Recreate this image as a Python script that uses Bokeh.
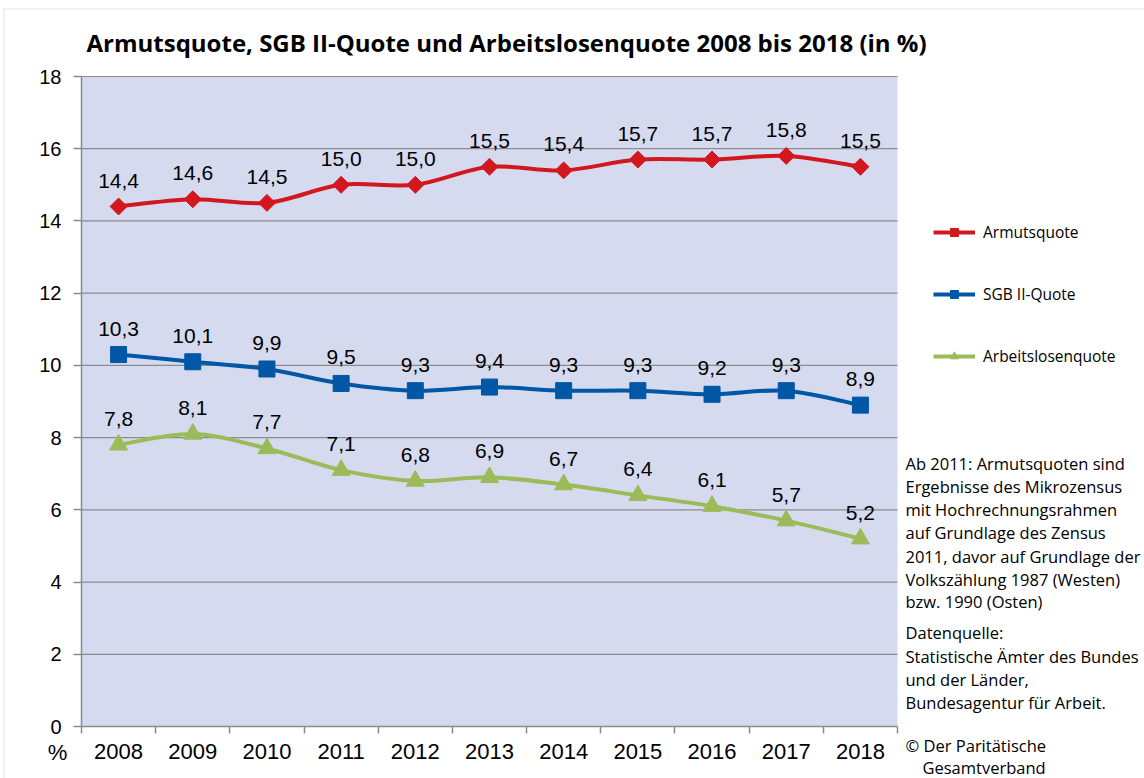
from bokeh.plotting import figure
from bokeh.models import (ColumnDataSource, FixedTicker, Range1d, Label, Legend, LegendItem,
                          BoxAnnotation)
from bokeh.core.properties import value
from bokeh.embed import file_html
from bokeh.resources import INLINE
import math

years = ["2008", "2009", "2010", "2011", "2012", "2013", "2014", "2015", "2016", "2017", "2018"]
armut = [14.4, 14.6, 14.5, 15.0, 15.0, 15.5, 15.4, 15.7, 15.7, 15.8, 15.5]
sgb2 = [10.3, 10.1, 9.9, 9.5, 9.3, 9.4, 9.3, 9.3, 9.2, 9.3, 8.9]
alq = [7.8, 8.1, 7.7, 7.1, 6.8, 6.9, 6.7, 6.4, 6.1, 5.7, 5.2]
y_ticks = [0, 2, 4, 6, 8, 10, 12, 14, 16, 18]
Y_MAX = 18

title_text = "Armutsquote, SGB II-Quote und Arbeitslosenquote 2008 bis 2018 (in %)"
note_lines = ["Ab 2011: Armutsquoten sind", "Ergebnisse des  Mikrozensus",
              "mit Hochrechnungsrahmen", "auf Grundlage des  Zensus",
              "2011, davor auf Grundlage der", "Volkszählung 1987 (Westen)",
              "bzw. 1990 (Osten)"]
source_lines = ["Datenquelle:", "Statistische Ämter des Bundes", "und der Länder,",
                "Bundesagentur für Arbeit."]
copy_lines = ["© Der Paritätische", "Gesamtverband"]

RED = "#D2171E"
BLUE = "#0057A6"
GREEN = "#9BBB59"
GRID = "#8C8C8C"
BG = "#D5DAEF"
FONT = "Liberation Sans"
TFONT = "Open Sans"

# page geometry (pixels): plot area 81..897 x 76..726
W, H = 1144, 778
PL, PR, PT, PB = 81, 897, 76, 726
n = len(years)
ux = (PR - PL) / n
uy = (PB - PT) / Y_MAX


def dx(px):
    return (px - PL) / ux


def dy(py):
    return (PB - py) / uy


xs = [i + 0.5 for i in range(n)]

p = figure(width=W, height=H, output_backend="svg", toolbar_location=None,
           x_range=Range1d(dx(0), dx(W)), y_range=Range1d(dy(H), dy(0)),
           min_border=0, background_fill_color="white", border_fill_color="white")
p.outline_line_color = None

# outer frame line (left and top edges visible)
p.add_layout(BoxAnnotation(left=dx(3.5), right=dx(W + 20), top=dy(8.5), bottom=dy(H + 20),
                           fill_alpha=0, line_color="#A0A0A0", line_width=1, level="underlay"))
# plot area background
p.add_layout(BoxAnnotation(left=0, right=n, bottom=0, top=Y_MAX, fill_color=BG, fill_alpha=1,
                           line_alpha=0, level="underlay"))

# gridlines
p.xgrid.grid_line_color = None
p.ygrid.grid_line_color = None
gl = [t for t in y_ticks if t > 0]
p.segment(x0=[0] * len(gl), x1=[n] * len(gl), y0=gl, y1=gl, line_color=GRID, line_width=1.2)

# axes
xa = p.xaxis[0]
xa.fixed_location = 0
xa.bounds = (0, n)
xa.ticker = FixedTicker(ticks=xs, minor_ticks=list(range(n + 1)))
xa.major_label_overrides = {x: y for x, y in zip(xs, years)}
xa.major_tick_line_color = None
xa.major_tick_out = 7
xa.minor_tick_out = 7
xa.minor_tick_in = 0
xa.minor_tick_line_color = GRID
xa.minor_tick_line_width = 1.5
xa.major_label_standoff = 10
xa.major_label_text_font = FONT
xa.major_label_text_font_size = "22px"
xa.major_label_text_color = "black"
xa.axis_line_color = GRID
xa.axis_line_width = 1.5

ya = p.yaxis[0]
ya.fixed_location = 0
ya.bounds = (0, Y_MAX)
ya.ticker = FixedTicker(ticks=y_ticks)
ya.minor_tick_line_color = None
ya.major_tick_out = 8
ya.major_tick_in = 0
ya.major_tick_line_color = GRID
ya.major_tick_line_width = 1.5
ya.major_label_standoff = 12
ya.major_label_text_font = FONT
ya.major_label_text_font_size = "20px"
ya.major_label_text_color = "black"
ya.axis_line_color = GRID
ya.axis_line_width = 1.5


def smooth(ys):
    m = len(ys)
    pts = list(zip(xs, ys))
    d = dict(x0=[], y0=[], x1=[], y1=[], cx0=[], cy0=[], cx1=[], cy1=[])
    for i in range(m - 1):
        p0 = pts[max(i - 1, 0)]
        p1 = pts[i]
        p2 = pts[i + 1]
        p3 = pts[min(i + 2, m - 1)]
        d["x0"].append(p1[0]); d["y0"].append(p1[1])
        d["x1"].append(p2[0]); d["y1"].append(p2[1])
        d["cx0"].append(p1[0] + (p2[0] - p0[0]) / 6); d["cy0"].append(p1[1] + (p2[1] - p0[1]) / 6)
        d["cx1"].append(p2[0] - (p3[0] - p1[0]) / 6); d["cy1"].append(p2[1] - (p3[1] - p1[1]) / 6)
    return ColumnDataSource(d)


series = [
    ("Armutsquote", armut, RED, "square", 12, math.pi / 4),
    ("SGB II-Quote", sgb2, BLUE, "square", 16, 0),
    ("Arbeitslosenquote", alq, GREEN, "triangle", 18, 0),
]

items = []
for name, vals, col, mk, sz, ang in series:
    src = ColumnDataSource(dict(x=xs, y=vals, lab=[f"{v:.1f}".replace(".", ",") for v in vals]))
    p.bezier(x0="x0", y0="y0", x1="x1", y1="y1", cx0="cx0", cy0="cy0", cx1="cx1", cy1="cy1",
             source=smooth(vals), line_color=col, line_width=4)
    sc = p.scatter("x", "y", source=src, marker=mk, size=sz, angle=ang, fill_color=col, line_color=col)
    p.text("x", "y", text="lab", source=src, text_font=value(FONT), text_font_size="21px",
           text_color="black", text_align="center", text_baseline="middle", y_offset=-26)
    lr = p.line([xs[0], xs[1]], [vals[0], vals[1]], line_color=col, line_width=4, visible=False)
    items.append(LegendItem(label=name, renderers=[lr, sc]))

legend = Legend(items=items, location=(933, 411), spacing=40, glyph_width=42, glyph_height=20,
                label_height=20, label_standoff=8, label_text_font=TFONT,
                label_text_font_size="15.5px", label_text_color="black",
                border_line_color=None, background_fill_alpha=0, padding=0, margin=0)
p.add_layout(legend, "center")

# title
p.add_layout(Label(x=dx(86), y=dy(42), text=title_text, text_font=TFONT, text_font_style="bold",
                   text_font_size="24px", text_color="black", text_baseline="middle"))
# % label
p.add_layout(Label(x=dx(57), y=dy(752), text="%", text_font=FONT, text_font_size="22px",
                   text_color="black", text_align="center", text_baseline="middle"))

NOTE_SIZE = "16.5px"
note_y = [463, 486, 509, 532, 556, 579, 601]
for t, py in zip(note_lines, note_y):
    p.add_layout(Label(x=dx(905), y=dy(py), text=t, text_font=TFONT, text_font_size=NOTE_SIZE,
                       text_color="black", text_baseline="middle"))
src_y = [632, 656, 679, 702]
for t, py in zip(source_lines, src_y):
    p.add_layout(Label(x=dx(905), y=dy(py), text=t, text_font=TFONT, text_font_size=NOTE_SIZE,
                       text_color="black", text_baseline="middle"))
copy_pos = [(905, 745), (922, 767)]
for t, (px, py) in zip(copy_lines, copy_pos):
    p.add_layout(Label(x=dx(px), y=dy(py), text=t, text_font=TFONT,
                       text_font_size=NOTE_SIZE, text_color="black", text_baseline="middle"))

open("out.html", "w").write(file_html(p, INLINE))
